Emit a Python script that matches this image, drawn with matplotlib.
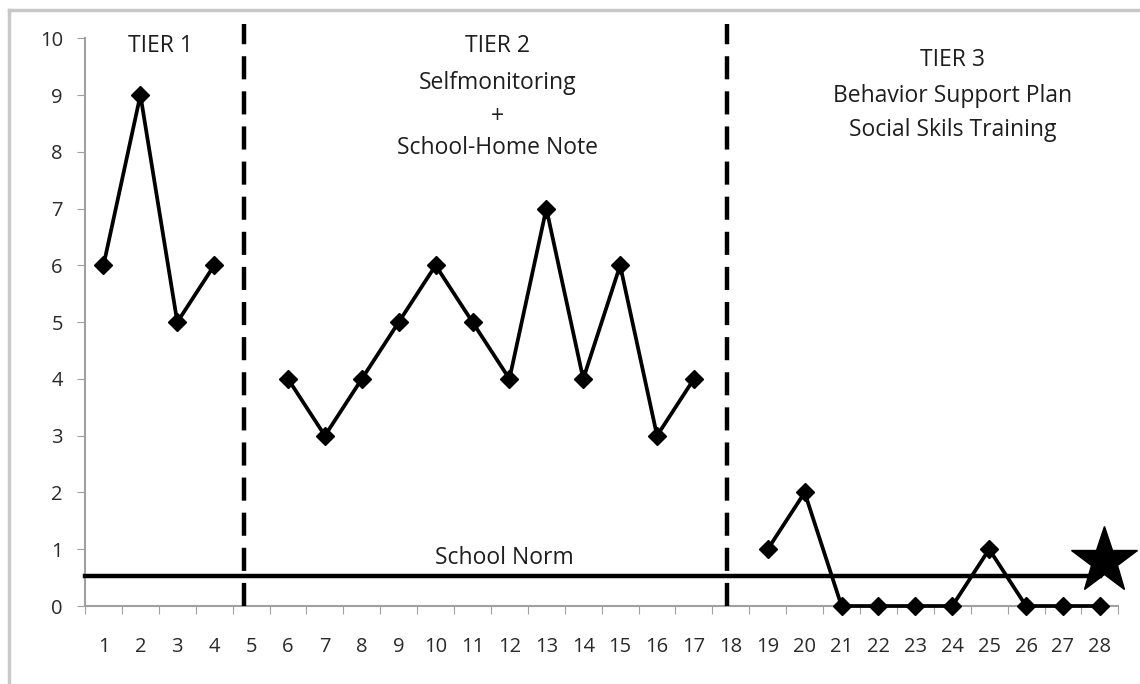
import numpy as np
import matplotlib
matplotlib.use('Agg')
import matplotlib.pyplot as plt
from matplotlib.lines import Line2D

plt.rcParams['font.family'] = ['Open Sans', 'DejaVu Sans']

# data, split by phase
tier1_x = [1, 2, 3, 4]
tier1_y = [6, 9, 5, 6]
tier2_x = [6, 7, 8, 9, 10, 11, 12, 13, 14, 15, 16, 17]
tier2_y = [4, 3, 4, 5, 6, 5, 4, 7, 4, 6, 3, 4]
tier3_x = [19, 20, 21, 22, 23, 24, 25, 26, 27, 28]
tier3_y = [1, 2, 0, 0, 0, 0, 1, 0, 0, 0]
school_norm = 0.52
goal_x, goal_y = 28, 0.8
phase_changes = [4.8, 17.9]
x_labels = [str(i) for i in range(1, 29)]

tier2_lines = ['TIER 2', 'Selfmonitoring', '+', 'School-Home Note']
tier3_lines = ['TIER 3', 'Behavior Support Plan', 'Social Skils Training']

fig = plt.figure(figsize=(11.4, 6.84), dpi=100)
ax = fig.add_axes([0.0746, 0.114, 0.9064, 0.8301])

for xs, ys in [(tier1_x, tier1_y), (tier2_x, tier2_y), (tier3_x, tier3_y)]:
    ax.plot(xs, ys, color='black', lw=2.7, marker='D', markersize=9.5, zorder=4, clip_on=False)

ax.plot([0.5, goal_x], [school_norm, school_norm], color='black', lw=3.2, zorder=3, clip_on=False)
ax.plot([goal_x + 0.1], [goal_y], marker='*', color='black', markersize=50, zorder=5, clip_on=False)

for xv in phase_changes:
    ax.plot([xv, xv], [0, 10.25], color='black', lw=3.2, ls=(0, (5.2, 2.7)), zorder=3, clip_on=False)

txt = dict(ha='center', va='center', fontsize=16.5, color='#1e1e1e')
ax.text(11.85, 0.85, 'School Norm', **txt)
ax.text(2.55, 9.86, 'TIER 1', **txt)
for line, yv in zip(tier2_lines, [9.86, 9.22, 8.62, 8.06]):
    ax.text(11.67, yv, line, **txt)
for line, yv in zip(tier3_lines, [9.61, 8.99, 8.39]):
    ax.text(24.0, yv, line, **txt)

ax.set_xlim(0.5, 28.5)
ax.set_ylim(0, 10)
ax.set_yticks(range(0, 11))
ax.set_xticks(np.arange(0.5, 29, 1))
ax.set_xticklabels([])
ax.set_xticks(range(1, 29), minor=True)
ax.set_xticklabels(x_labels, minor=True)
ax.tick_params(axis='x', which='major', length=6, color='#a0a0a0', direction='out')
ax.tick_params(axis='x', which='minor', length=0, pad=22, labelsize=14.5, labelcolor='#2a2a2a')
ax.tick_params(axis='y', length=6, color='#a0a0a0', labelsize=14.5, labelcolor='#2a2a2a', pad=10)
for s in ['top', 'right']:
    ax.spines[s].set_visible(False)
for s in ['left', 'bottom']:
    ax.spines[s].set_color('#a0a0a0')
    ax.spines[s].set_linewidth(1.5)

# grey frame of the original picture
fig.add_artist(Line2D([0.008, 1.0], [0.985, 0.985], color='#c8c8c8', lw=2.5, transform=fig.transFigure))
fig.add_artist(Line2D([0.008, 0.008], [0.0, 0.985], color='#c8c8c8', lw=2.5, transform=fig.transFigure))

fig.savefig('out.png', dpi=100)
